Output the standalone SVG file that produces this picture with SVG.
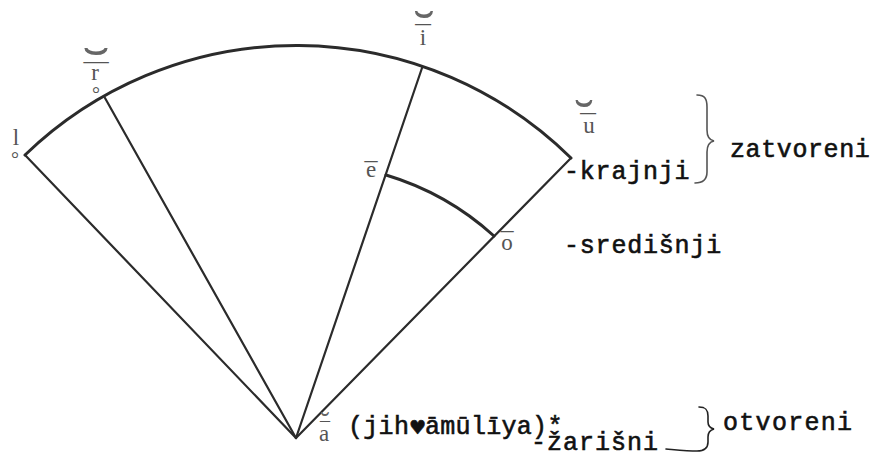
<svg xmlns="http://www.w3.org/2000/svg" width="874" height="452" viewBox="0 0 874 452">
<defs>
<style>
.ln{fill:none;stroke:#2b2b2b;stroke-width:2.2;stroke-linecap:round}
.arc{fill:none;stroke:#2b2b2b;stroke-width:3;stroke-linecap:round}
.lab{font-family:"Liberation Serif",serif;font-size:23px;fill:#555;text-anchor:middle}
.mac{font-family:"Liberation Serif",serif;font-size:26px;fill:#555;text-anchor:middle}
.brv{font-family:"Liberation Serif",serif;font-size:46px;fill:#666;text-anchor:middle}
.rng{font-family:"Liberation Serif",serif;font-size:20px;fill:#555;text-anchor:middle}
.tw{font-family:"Liberation Mono",monospace;font-size:25px;fill:#111;stroke:#111;stroke-width:0.6}
.br{fill:none;stroke:#555;stroke-width:1.6;stroke-linecap:round}
</style>
</defs>
<rect width="874" height="452" fill="#fff"/>
<g id="connectors">
<path class="arc" d="M25,155 A391,391 0 0,1 571,158"/>
<line class="ln" x1="296" y1="438" x2="25" y2="155"/>
<line class="ln" x1="296" y1="438" x2="105" y2="98"/>
<line class="ln" x1="296" y1="438" x2="422" y2="68"/>
<line class="ln" x1="296" y1="438" x2="571" y2="158"/>
<path class="arc" d="M386,175 A280,280 0 0,1 494,236"/>
</g>
<g id="v-l">
<text class="lab" x="16" y="145">l</text>
<text class="rng" x="15" y="166">°</text>
</g>
<g id="v-r">
<text class="brv" transform="translate(96,83) scale(1.8,1.1)">˘</text>
<text class="mac" transform="translate(96,81) scale(1.9,1)">¯</text>
<text class="lab" x="95" y="80">r</text>
<text class="rng" x="96" y="101">°</text>
</g>
<g id="v-i">
<text class="brv" transform="translate(424,46) scale(1.4,1.1)">˘</text>
<text class="mac" transform="translate(423,43) scale(1.2,1)">¯</text>
<text class="lab" x="423" y="45">i</text>
</g>
<g id="v-u">
<text class="brv" transform="translate(584,135) scale(1.3,1.1)">˘</text>
<text class="mac" transform="translate(588,132) scale(1.2,1)">¯</text>
<text class="lab" x="589" y="133">u</text>
</g>
<g id="v-e">
<text class="mac" x="371" y="180">¯</text>
<text class="lab" x="371" y="177">e</text>
</g>
<g id="v-o">
<text class="mac" x="507" y="250">¯</text>
<text class="lab" x="507" y="250">o</text>
</g>
<g id="v-a">
<text class="brv" x="325" y="431" style="font-size:28px">˘</text>
<text class="mac" x="325" y="437" style="font-size:20px">¯</text>
<text class="lab" x="324" y="441">a</text>
</g>
<g id="label-jihvamuliya">
<text class="tw" x="348" y="434" style="letter-spacing:0.3px">(jih<tspan x="409" style="font-family:'DejaVu Sans',sans-serif;font-size:19px">♥</tspan><tspan x="425">āmūlīya)*</tspan></text>
</g>
<g id="label-krajnji"><text class="tw" x="564" y="179" style="letter-spacing:0.8px">-krajnji</text></g>
<g id="label-sredisnji"><text class="tw" x="564" y="253" style="letter-spacing:0.8px">-središnji</text></g>
<g id="label-zarisni"><text class="tw" x="531" y="450" style="letter-spacing:1px">-žarišni</text></g>
<g id="group-zatvoreni">
<path class="br" d="M697,95 C705,95 707,99 707,107 L707,130 C707,137 709,140 714,141 C709,142 707,145 707,152 L707,172 C707,180 703,183 695,183"/>
<text class="tw" x="730" y="157" style="letter-spacing:0.6px">zatvoreni</text>
</g>
<g id="group-otvoreni">
<path class="br" style="stroke:#222" d="M699,407 C706,407 708,410 708,416 L708,422 C708,426 710,428 714,429 C710,430 708,432 708,437 L708,442 C708,448 704,451 697,451 C688,451 678,450 666,449"/>
<text class="tw" x="723" y="430" style="letter-spacing:1.3px">otvoreni</text>
</g>
</svg>
